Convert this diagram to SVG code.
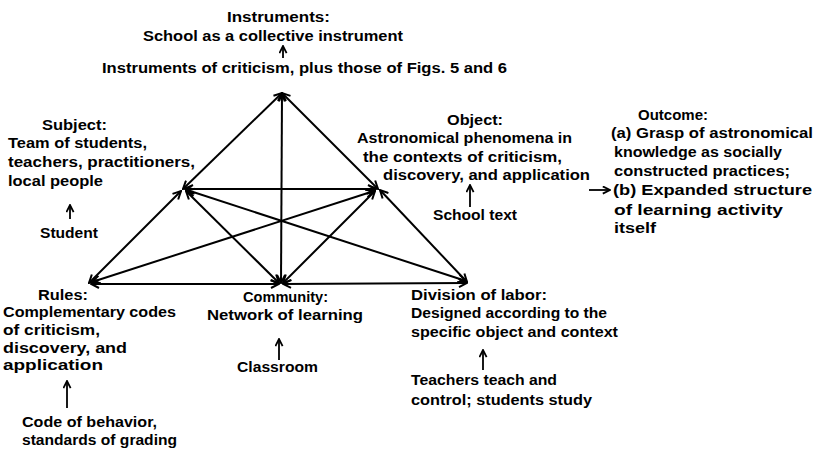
<svg xmlns="http://www.w3.org/2000/svg" width="816" height="451" viewBox="0 0 816 451">
<style>
text{font-family:"Liberation Sans",Arial,sans-serif;font-weight:bold;font-size:14px;fill:#000}
.e{stroke:#000;stroke-width:2;fill:none;marker-start:url(#ah);marker-end:url(#ah)}
.s{stroke:#000;stroke-width:1.8;fill:none;marker-end:url(#sa)}
</style>
<defs>
<marker id="ah" viewBox="0 0 10 10" refX="9" refY="5" markerWidth="10" markerHeight="10" markerUnits="userSpaceOnUse" orient="auto-start-reverse">
<path d="M1,1 L9,5 L1,9" stroke="#000" stroke-width="2" fill="none"/>
</marker>
<marker id="sa" viewBox="0 0 10 10" refX="9" refY="5" markerWidth="9" markerHeight="9" markerUnits="userSpaceOnUse" orient="auto">
<path d="M1,1 L9,5 L1,9" stroke="#000" stroke-width="2" fill="none"/>
</marker>
</defs>
<rect width="816" height="451" fill="#fff"/>
<g id="connectors">
<line class="e" x1="282" y1="93" x2="183" y2="189"/>
<line class="e" x1="282" y1="93" x2="378" y2="189"/>
<line class="e" x1="282" y1="93" x2="281" y2="283"/>
<line class="e" x1="185" y1="189" x2="376" y2="189"/>
<line class="e" x1="181" y1="191" x2="89" y2="283"/>
<line class="e" x1="380" y1="190" x2="467" y2="282"/>
<line class="e" x1="91" y1="284" x2="279" y2="284"/>
<line class="e" x1="283" y1="284" x2="467" y2="283"/>
<line class="e" x1="186" y1="191" x2="279" y2="283"/>
<line class="e" x1="375" y1="191" x2="283" y2="283"/>
<line class="e" x1="187" y1="190" x2="466" y2="281"/>
<line class="e" x1="374" y1="191" x2="92" y2="282"/>
<line class="s" x1="589" y1="190" x2="610" y2="190"/>
</g>
<g id="instruments">
<text x="227" y="22" textLength="103" lengthAdjust="spacingAndGlyphs">Instruments:</text>
<text x="143" y="41" textLength="260" lengthAdjust="spacingAndGlyphs">School as a collective instrument</text>
<line class="s" x1="283" y1="58" x2="283" y2="46"/>
<text x="102" y="73" textLength="405" lengthAdjust="spacingAndGlyphs">Instruments of criticism, plus those of Figs. 5 and 6</text>
</g>
<g id="subject">
<text x="42" y="130" textLength="65" lengthAdjust="spacingAndGlyphs">Subject:</text>
<text x="8" y="148" textLength="139" lengthAdjust="spacingAndGlyphs">Team of students,</text>
<text x="8" y="167" textLength="187" lengthAdjust="spacingAndGlyphs">teachers, practitioners,</text>
<text x="8" y="186" textLength="95" lengthAdjust="spacingAndGlyphs">local people</text>
<line class="s" x1="70" y1="219" x2="70" y2="205"/>
<text x="40" y="238" textLength="58" lengthAdjust="spacingAndGlyphs">Student</text>
</g>
<g id="object">
<text x="447" y="125" textLength="56" lengthAdjust="spacingAndGlyphs">Object:</text>
<text x="357" y="143" textLength="215" lengthAdjust="spacingAndGlyphs">Astronomical phenomena in</text>
<text x="363" y="162" textLength="199" lengthAdjust="spacingAndGlyphs">the contexts of criticism,</text>
<text x="383" y="180" textLength="207" lengthAdjust="spacingAndGlyphs">discovery, and application</text>
<line class="s" x1="470" y1="207" x2="470" y2="185"/>
<text x="433" y="220" textLength="84" lengthAdjust="spacingAndGlyphs">School text</text>
</g>
<g id="outcome">
<text x="638" y="120" textLength="70" lengthAdjust="spacingAndGlyphs">Outcome:</text>
<text x="611" y="138" textLength="202" lengthAdjust="spacingAndGlyphs">(a) Grasp of astronomical</text>
<text x="614" y="157" textLength="168" lengthAdjust="spacingAndGlyphs">knowledge as socially</text>
<text x="614" y="176" textLength="176" lengthAdjust="spacingAndGlyphs">constructed practices;</text>
<text x="613" y="195" textLength="199" lengthAdjust="spacingAndGlyphs">(b) Expanded structure</text>
<text x="614" y="215" textLength="169" lengthAdjust="spacingAndGlyphs">of learning activity</text>
<text x="614" y="233" textLength="42" lengthAdjust="spacingAndGlyphs">itself</text>
</g>
<g id="rules">
<text x="38" y="300" textLength="50" lengthAdjust="spacingAndGlyphs">Rules:</text>
<text x="3" y="317" textLength="173" lengthAdjust="spacingAndGlyphs">Complementary codes</text>
<text x="3" y="335" textLength="97" lengthAdjust="spacingAndGlyphs">of criticism,</text>
<text x="3" y="353" textLength="124" lengthAdjust="spacingAndGlyphs">discovery, and</text>
<text x="3" y="370" textLength="100" lengthAdjust="spacingAndGlyphs">application</text>
<line class="s" x1="67" y1="408" x2="67" y2="381"/>
<text x="22" y="427" textLength="135" lengthAdjust="spacingAndGlyphs">Code of behavior,</text>
<text x="22" y="445" textLength="155" lengthAdjust="spacingAndGlyphs">standards of grading</text>
</g>
<g id="community">
<text x="243" y="302" textLength="85" lengthAdjust="spacingAndGlyphs">Community:</text>
<text x="207" y="320" textLength="156" lengthAdjust="spacingAndGlyphs">Network of learning</text>
<line class="s" x1="279" y1="360" x2="279" y2="339"/>
<text x="237" y="372" textLength="81" lengthAdjust="spacingAndGlyphs">Classroom</text>
</g>
<g id="division">
<text x="411" y="300" textLength="136" lengthAdjust="spacingAndGlyphs">Division of labor:</text>
<text x="411" y="318" textLength="196" lengthAdjust="spacingAndGlyphs">Designed according to the</text>
<text x="411" y="337" textLength="207" lengthAdjust="spacingAndGlyphs">specific object and context</text>
<line class="s" x1="483" y1="370" x2="483" y2="350"/>
<text x="411" y="385" textLength="146" lengthAdjust="spacingAndGlyphs">Teachers teach and</text>
<text x="411" y="405" textLength="181" lengthAdjust="spacingAndGlyphs">control; students study</text>
</g>
</svg>
